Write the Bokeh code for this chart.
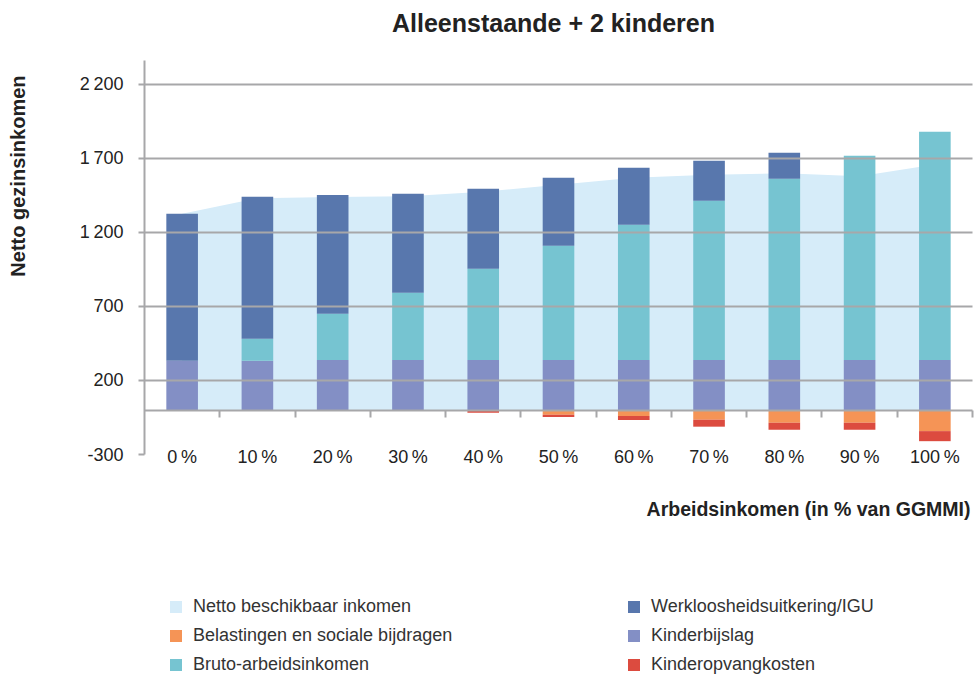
import numpy as np
from bokeh.plotting import figure
from bokeh.models import (ColumnDataSource, Range1d, LinearAxis, FixedTicker, Grid,
                          Legend, LegendItem, Label)
from bokeh.embed import file_html
from bokeh.resources import INLINE

# ---- data ----
categories = ["0\u2009%", "10\u2009%", "20\u2009%", "30\u2009%", "40\u2009%", "50\u2009%",
              "60\u2009%", "70\u2009%", "80\u2009%", "90\u2009%", "100\u2009%"]
kinderbijslag = [333, 333, 338, 338, 338, 338, 338, 338, 338, 338, 338]
bruto_arbeidsinkomen = [0, 149, 313, 455, 617, 772, 914, 1076, 1225, 1380, 1542]
werkloosheidsuitkering = [993, 959, 803, 668, 540, 459, 385, 270, 176, 0, 0]
belastingen = [0, 0, 0, 0, 0, -32, -40, -65, -85, -85, -142]
kinderopvang = [0, 0, 0, 0, -18, -14, -27, -47, -47, -47, -68]
netto_inkomen = [1326, 1432, 1440, 1445, 1475, 1522, 1570, 1590, 1600, 1580, 1660]
y_ticks = [-300, 200, 700, 1200, 1700, 2200]
y_tick_labels = ["-300", "200", "700", "1\u2009200", "1\u2009700", "2\u2009200"]
grid_ticks = [200, 700, 1200, 1700, 2200]
y_min, y_max = -300, 2362

# ---- layout (pixels) ----
W, H = 976, 674
PLOT_L, PLOT_R, PLOT_T, PLOT_B = 144, 972, 60, 454   # plotting area inside the canvas

FONT = "Liberation Sans"
GRAY = "#a7a7a9"
TXT = "#222222"
C_AREA = "#d6ecf9"
C_WW = "#5877ad"
C_KB = "#838fc5"
C_BRUTO = "#76c4d1"
C_BEL = "#f59456"
C_OPV = "#dc4b3f"

n = len(categories)
xc = np.arange(n) + 0.5
src = ColumnDataSource(dict(x=xc, kb=kinderbijslag, bruto=bruto_arbeidsinkomen,
                            ww=werkloosheidsuitkering, bel=belastingen, opv=kinderopvang,
                            netto=netto_inkomen, zero=[0] * n))

# the frame covers the whole canvas; axes are placed at fixed locations
px_x = (PLOT_R - PLOT_L) / n
px_y = (PLOT_B - PLOT_T) / (y_max - y_min)
x_range = Range1d(-PLOT_L / px_x, n + (W - PLOT_R) / px_x)
y_range = Range1d(y_min - (H - PLOT_B) / px_y, y_max + PLOT_T / px_y)

p = figure(width=W, height=H, x_range=x_range, y_range=y_range,
           output_backend="svg", toolbar_location=None,
           x_axis_type=None, y_axis_type=None,
           min_border_left=0, min_border_right=0, min_border_top=0, min_border_bottom=0,
           outline_line_color=None, background_fill_color="white")
p.xgrid.visible = False
p.ygrid.visible = False

area = p.varea(x="x", y1="zero", y2="netto", source=src, fill_color=C_AREA)
pos = p.vbar_stack(["kb", "bruto", "ww"], x="x", width=0.42, source=src,
                   fill_color=[C_KB, C_BRUTO, C_WW], line_color=None)
neg = p.vbar_stack(["bel", "opv"], x="x", width=0.42, source=src,
                   fill_color=[C_BEL, C_OPV], line_color=None)

grid = Grid(dimension=1, ticker=FixedTicker(ticks=grid_ticks), cross_bounds=(0, n),
            grid_line_color=GRAY, grid_line_width=2, level="annotation")
p.add_layout(grid)

# y axis at the left edge of the plotting area
yaxis = LinearAxis(ticker=FixedTicker(ticks=y_ticks), fixed_location=0, bounds=(y_min, y_max),
                   major_label_overrides=dict(zip(y_ticks, y_tick_labels)),
                   axis_line_color=GRAY, axis_line_width=2,
                   major_tick_line_color=GRAY, major_tick_line_width=2,
                   major_tick_out=6, major_tick_in=0, minor_tick_line_color=None,
                   major_label_text_font=FONT, major_label_text_font_size="18px",
                   major_label_text_color=TXT, major_label_standoff=15)
p.add_layout(yaxis, "left")

# category labels along the bottom of the plotting area
label_axis = LinearAxis(ticker=FixedTicker(ticks=list(xc)), fixed_location=y_min,
                        major_label_overrides={float(k): v for k, v in zip(xc, categories)},
                        axis_line_color=None, major_tick_line_color=None,
                        minor_tick_line_color=None, major_tick_out=0, major_tick_in=0,
                        major_label_text_font=FONT, major_label_text_font_size="18px",
                        major_label_text_color=TXT, major_label_standoff=-8)
p.add_layout(label_axis, "below")

# zero line with category boundary ticks
zero_axis = LinearAxis(ticker=FixedTicker(ticks=list(np.arange(1, n + 1))), fixed_location=0,
                       bounds=(0, n), axis_line_color=GRAY, axis_line_width=2,
                       major_tick_line_color=GRAY, major_tick_line_width=2,
                       major_tick_out=7, major_tick_in=0, minor_tick_line_color=None,
                       major_label_text_font_size="0px", major_label_text_alpha=0)
p.add_layout(zero_axis, "below")

# titles
p.add_layout(Label(x=553, y=H - 22, x_units="screen", y_units="screen",
                   text="Alleenstaande + 2 kinderen", text_align="center",
                   text_baseline="alphabetic", text_font=FONT, text_font_size="25px",
                   text_font_style="bold", text_color=TXT))
p.add_layout(Label(x=17, y=H - 75, x_units="screen", y_units="screen", angle=np.pi / 2,
                   text="Netto gezinsinkomen", text_align="right",
                   text_baseline="alphabetic", text_font=FONT, text_font_size="20px",
                   text_font_style="bold", text_color=TXT))
p.add_layout(Label(x=970, y=H - 508, x_units="screen", y_units="screen",
                   text="Arbeidsinkomen (in % van GGMMI)", text_align="right",
                   text_baseline="alphabetic", text_font=FONT, text_font_size="19.5px",
                   text_font_style="bold", text_color=TXT))

leg_kw = dict(glyph_width=15, glyph_height=15, label_standoff=10, label_height=20,
              label_text_font=FONT, label_text_font_size="18px", label_text_color="#333333",
              padding=0, margin=0, spacing=8, border_line_alpha=0, background_fill_alpha=0)
leg1 = Legend(items=[LegendItem(label="Netto beschikbaar inkomen", renderers=[area]),
                     LegendItem(label="Belastingen en sociale bijdragen", renderers=[neg[0]]),
                     LegendItem(label="Bruto-arbeidsinkomen", renderers=[pos[1]])],
              location=(168, -1), **leg_kw)
leg2 = Legend(items=[LegendItem(label="Werkloosheidsuitkering/IGU", renderers=[pos[2]]),
                     LegendItem(label="Kinderbijslag", renderers=[pos[0]]),
                     LegendItem(label="Kinderopvangkosten", renderers=[neg[1]])],
              location=(626, -1), **leg_kw)
p.add_layout(leg1)
p.add_layout(leg2)

open("out.html", "w").write(file_html(p, INLINE))
